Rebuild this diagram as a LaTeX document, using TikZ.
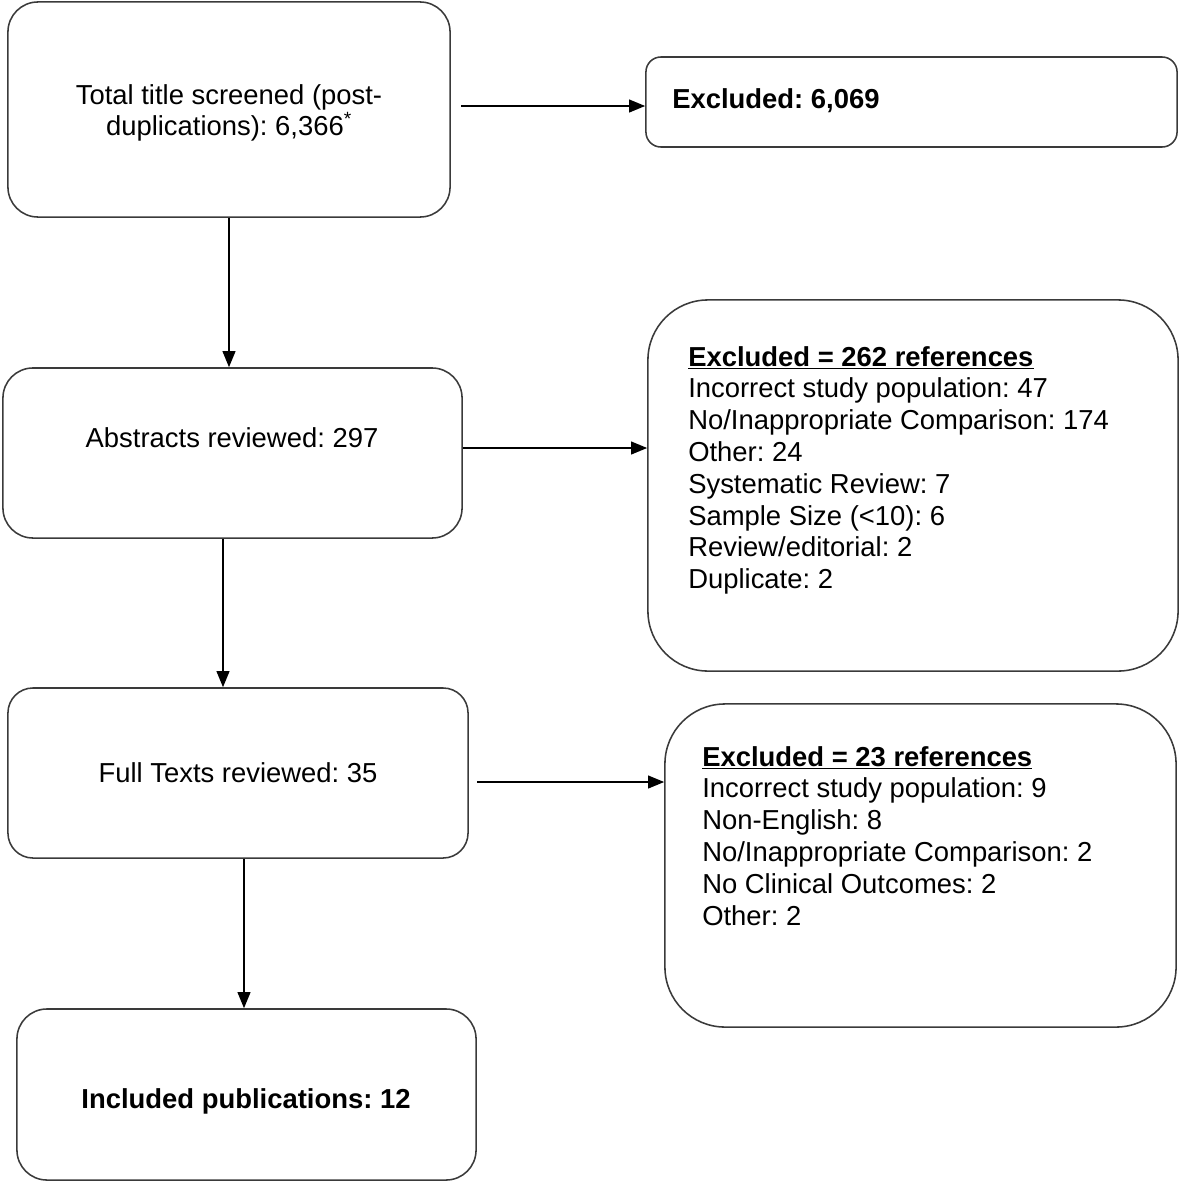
\documentclass[tikz,border=0pt]{standalone}
\usepackage{fontspec}
\setmainfont{Liberation Sans}
\usetikzlibrary{arrows.meta}

\definecolor{boxgray}{HTML}{3a3a3a}

\begin{document}
\frenchspacing
\begin{tikzpicture}[x=0.025cm, y=-0.025cm,
  box/.style={draw=boxgray, line width=1.1pt, inner sep=0pt},
  txt/.style={inner sep=0pt, font=\fontsize{19.5}{22.6}\selectfont},
  flow/.style={line width=1.1pt, -{Triangle[length=0.4cm, width=0.32cm]}}]
  \useasboundingbox (0,0) rectangle (1180,1184);
  % boxes on the left
  \node[box, rounded corners=0.75cm, minimum width=11.05cm, minimum height=5.375cm] (screen) at (229,109.5) {};
  \node[box, rounded corners=0.75cm, minimum width=11.475cm, minimum height=4.25cm] (abstr) at (232.5,453) {};
  \node[box, rounded corners=0.625cm, minimum width=11.5cm, minimum height=4.25cm] (full) at (238,773) {};
  \node[box, rounded corners=0.75cm, minimum width=11.475cm, minimum height=4.275cm] (incl) at (246.5,1094.5) {};
  % boxes on the right
  \node[box, rounded corners=0.375cm, minimum width=13.275cm, minimum height=2.25cm] (exclA) at (911.5,102) {};
  \node[box, rounded corners=1.5cm, minimum width=13.25cm, minimum height=9.275cm] (exclB) at (913,485.5) {};
  \node[box, rounded corners=1.5cm, minimum width=12.775cm, minimum height=8.075cm] (exclC) at (920.5,865.5) {};
  % texts
  \node[txt, align=center] (screentxt) at (229,113) {Total title screened (post-\\duplications): 6,366\textsuperscript{*}};
  \node[txt] (abstrtxt) at (232,438) {Abstracts reviewed: 297};
  \node[txt] (fulltxt) at (238,773) {Full Texts reviewed: 35};
  \node[txt] (incltxt) at (246,1101) {\bfseries Included publications: 12};
  \node[txt, anchor=west] (exclAtxt) at (672,101) {\bfseries Excluded: 6,069};
  \node[txt, anchor=north west, align=left] (exclBtxt) at (688,346) {{\bfseries\underline{Excluded = 262 references}}\\
    Incorrect study population: 47\\
    No/Inappropriate Comparison: 174\\
    Other: 24\\
    Systematic Review: 7\\
    Sample Size (<10): 6\\
    Review/editorial: 2\\
    Duplicate: 2};
  \node[txt, anchor=north west, align=left] (exclCtxt) at (702,746) {{\bfseries\underline{Excluded = 23 references}}\\
    Incorrect study population: 9\\
    Non-English: 8\\
    No/Inappropriate Comparison: 2\\
    No Clinical Outcomes: 2\\
    Other: 2};
  % connectors
  \coordinate (gapA) at (461,106);
  \coordinate (gapC) at (477,782);
  \draw[flow] (gapA) -- (gapA -| exclA.west);
  \draw[flow] (abstr.east |- 0,448) -- (exclB.west |- 0,448);
  \draw[flow] (gapC) -- (gapC -| exclC.west);
  \draw[flow] (screen.south -| 229,0) -- (abstr.north -| 229,0);
  \draw[flow] (abstr.south -| 223,0) -- (full.north -| 223,0);
  \draw[flow] (full.south -| 244,0) -- (incl.north -| 244,0);
\end{tikzpicture}
\end{document}
